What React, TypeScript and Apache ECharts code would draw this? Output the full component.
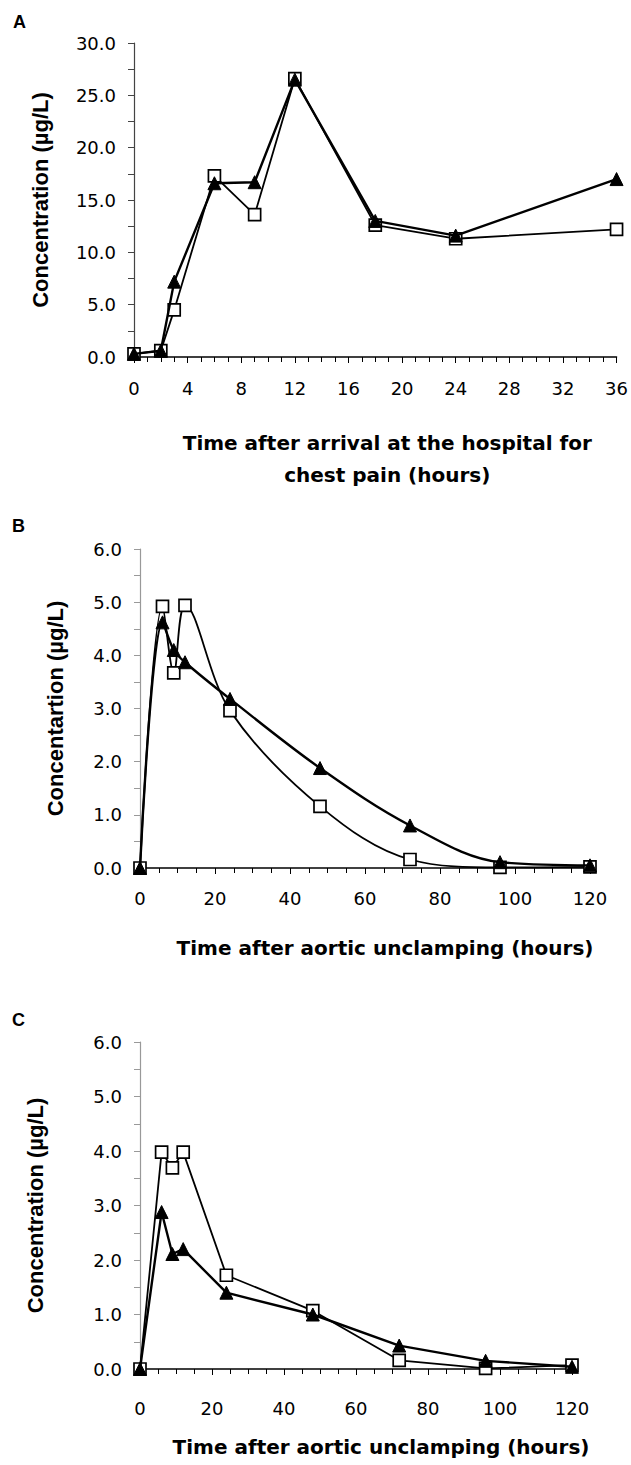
import React, { useEffect, useRef } from "react";
import * as echarts from "echarts";

// Panel A: time after arrival (hours)
const A_HOURS = [0, 2, 3, 6, 9, 12, 18, 24, 36];
const A_SQUARE = [0.3, 0.6, 4.5, 17.3, 13.6, 26.6, 12.6, 11.3, 12.2];
const A_TRIANGLE = [0.3, 0.6, 7.2, 16.6, 16.7, 26.5, 13.0, 11.6, 17.0];

// Panels B and C: time after aortic unclamping (hours)
const BC_HOURS = [0, 6, 9, 12, 24, 48, 72, 96, 120];
const B_SQUARE = [0, 4.92, 3.67, 4.94, 2.96, 1.16, 0.16, 0.01, 0.02];
const B_TRIANGLE = [0, 4.62, 4.1, 3.87, 3.18, 1.88, 0.8, 0.11, 0.05];
const C_SQUARE = [0, 3.98, 3.69, 3.98, 1.72, 1.07, 0.16, 0.01, 0.07];
const C_TRIANGLE = [0, 2.88, 2.11, 2.2, 1.4, 1.0, 0.43, 0.15, 0.04];

const PANEL_LABELS = ["A", "B", "C"];
const Y_NAMES = ["Concentration (µg/L)", "Concentartion (µg/L)", "Concentration (µg/L)"];
const X_NAMES = [
  "Time after arrival at the hospital for\nchest pain (hours)",
  "Time after aortic unclamping (hours)",
  "Time after aortic unclamping (hours)",
];

const pairs = (xs: number[], ys: number[]) => xs.map((x, i) => [x, ys[i]]);

const LABEL_FONT = "DejaVu Sans";
const TITLE_FONT = "DejaVu Sans";
const YNAME_FONT = "Liberation Sans";

export default function App() {
  const ref = useRef<HTMLDivElement>(null);
  useEffect(() => {
    if (!ref.current) return;
    const chart = echarts.init(ref.current, null, { renderer: "svg" });

    const grids = [
      { left: 134, top: 43, width: 483, height: 314 },
      { left: 140, top: 549, width: 450, height: 319 },
      { left: 140, top: 1042, width: 432, height: 327 },
    ];
    const xCfg = [
      { max: 36, interval: 4, gap: 70, margin: 22, shift: 24 },
      { max: 120, interval: 20, gap: 64, margin: 21, shift: 40 },
      { max: 120, interval: 20, gap: 62, margin: 30, shift: 50 },
    ];
    const yCfg = [
      { max: 30, interval: 5, gap: 83, color: "#444" },
      { max: 6, interval: 1, gap: 74, color: "#999" },
      { max: 6, interval: 1, gap: 94, color: "#999" },
    ];

    const xAxis = xCfg.map((c, i) => ({
      type: "value",
      gridIndex: i,
      min: 0,
      max: c.max,
      interval: c.interval,
      name: X_NAMES[i],
      nameLocation: "middle",
      nameGap: c.gap,
      nameTextStyle: {
        fontFamily: TITLE_FONT,
        fontWeight: "bold",
        fontSize: 20,
        color: "#000",
        lineHeight: 32,
        padding: [0, 0, 0, c.shift],
      },
      axisLine: { show: true, onZero: false, lineStyle: { color: "#000", width: 1.5 } },
      axisTick: { show: true, length: 6, lineStyle: { color: "#000" } },
      minorTick: { show: true, splitNumber: 4, length: 5, lineStyle: { color: "#000" } },
      splitLine: { show: false },
      axisLabel: {
        margin: c.margin,
        fontFamily: LABEL_FONT,
        fontSize: 18,
        color: "#000",
        formatter: (v: number) => String(v),
      },
    }));

    const yAxis = yCfg.map((c, i) => ({
      type: "value",
      gridIndex: i,
      min: 0,
      max: c.max,
      interval: c.interval,
      name: Y_NAMES[i],
      nameLocation: "middle",
      nameRotate: 90,
      nameGap: c.gap,
      nameTextStyle: {
        fontFamily: YNAME_FONT,
        fontWeight: "bold",
        fontSize: 22,
        color: "#000",
      },
      axisLine: { show: true, onZero: false, lineStyle: { color: c.color, width: 1.2 } },
      axisTick: { show: true, length: 6, lineStyle: { color: c.color } },
      minorTick: { show: true, splitNumber: 2, length: 6, lineStyle: { color: c.color } },
      splitLine: { show: false },
      axisLabel: {
        margin: 18,
        fontFamily: LABEL_FONT,
        fontSize: 18,
        color: "#000",
        formatter: (v: number) => v.toFixed(1),
      },
    }));

    const squareSeries = (idx: number, xs: number[], ys: number[], smooth: number | boolean) => ({
      type: "line",
      xAxisIndex: idx,
      yAxisIndex: idx,
      data: pairs(xs, ys),
      smooth,
      clip: false,
      symbol: "rect",
      symbolSize: 12,
      lineStyle: { color: "#000", width: 1.8 },
      itemStyle: { color: "#fff", borderColor: "#000", borderWidth: 1.7 },
      z: 3,
    });
    const triSeries = (idx: number, xs: number[], ys: number[], smooth: number | boolean) => ({
      type: "line",
      xAxisIndex: idx,
      yAxisIndex: idx,
      data: pairs(xs, ys),
      smooth,
      clip: false,
      symbol: "triangle",
      symbolSize: 13,
      lineStyle: { color: "#000", width: 2.4 },
      itemStyle: { color: "#000", borderColor: "#000", borderWidth: 1 },
      z: 4,
    });

    const option = {
      animation: false,
      backgroundColor: "#fff",
      grid: grids,
      xAxis,
      yAxis,
      series: [
        squareSeries(0, A_HOURS, A_SQUARE, false),
        triSeries(0, A_HOURS, A_TRIANGLE, false),
        squareSeries(1, BC_HOURS, B_SQUARE, 0.35),
        triSeries(1, BC_HOURS, B_TRIANGLE, 0.35),
        squareSeries(2, BC_HOURS, C_SQUARE, false),
        triSeries(2, BC_HOURS, C_TRIANGLE, false),
      ],
      graphic: [
        { type: "text", left: 13, top: 13, style: { text: PANEL_LABELS[0], font: "bold 18px Liberation Sans", fill: "#000" } },
        { type: "text", left: 12, top: 517, style: { text: PANEL_LABELS[1], font: "bold 18px Liberation Sans", fill: "#000" } },
        { type: "text", left: 12, top: 1011, style: { text: PANEL_LABELS[2], font: "bold 18px Liberation Sans", fill: "#000" } },
      ],
    };
    chart.setOption(option as any);
    return () => chart.dispose();
  }, []);
  return (
    <div
      ref={ref}
      style={{ position: "absolute", left: 0, top: 0, width: 631, height: 1465, background: "#fff" }}
    />
  );
}
